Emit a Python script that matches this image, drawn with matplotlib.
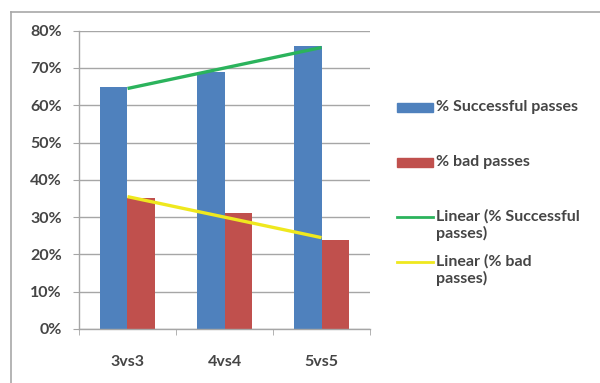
import numpy as np
import matplotlib.pyplot as plt
from matplotlib.patches import Rectangle
from matplotlib.lines import Line2D

# data
categories = ["3vs3", "4vs4", "5vs5"]
successful = [65, 69, 76]
bad = [35, 31, 24]
y_ticks = [0, 10, 20, 30, 40, 50, 60, 70, 80]
legend_labels = ["% Successful passes", "% bad passes",
                 "Linear (% Successful\npasses)", "Linear (% bad\npasses)"]

BLUE = "#4F81BD"
RED = "#C0504D"
GREEN = "#2BB35C"
YELLOW = "#EFE81E"
GRID = "#A6A6A6"
TEXT = "#454545"
FS = 11.5

plt.rcParams["font.family"] = ["Lato", "DejaVu Sans"]

W, H = 600, 383
fig = plt.figure(figsize=(W / 100, H / 100), dpi=100)
ax = fig.add_axes([79 / W, 54 / H, 291 / W, 298.3 / H])

x = np.arange(len(categories))
bw = 0.284
ax.bar(x - bw / 2, successful, width=bw, color=BLUE, zorder=2)
ax.bar(x + bw / 2, bad, width=bw, color=RED, zorder=2)

# excel style linear trendlines
for vals, col in [(successful, GREEN), (bad, YELLOW)]:
    k, b = np.polyfit(x, vals, 1)
    ax.plot(x, k * x + b, color=col, lw=2.4, zorder=3, solid_capstyle="butt")

ax.set_xlim(-0.5, len(categories) - 0.5)
ax.set_ylim(0, 80)
ax.set_yticks(y_ticks)
ax.set_yticklabels([f"{v}%" for v in y_ticks])
ax.set_xticks(x)
ax.set_xticklabels(categories)
ax.set_xticks(np.arange(len(categories) + 1) - 0.5, minor=True)

ax.yaxis.grid(True, color=GRID, lw=1)
ax.set_axisbelow(True)
for s in ["top", "right"]:
    ax.spines[s].set_visible(False)
for s in ["left", "bottom"]:
    ax.spines[s].set_color(GRID)
    ax.spines[s].set_linewidth(1)

ax.tick_params(axis="y", length=4.5, color=GRID, pad=8, labelsize=FS,
               labelcolor=TEXT)
ax.tick_params(axis="x", which="major", length=0, pad=19, labelsize=FS,
               labelcolor=TEXT)
ax.tick_params(axis="x", which="minor", length=4.5, color=GRID)
for lab in ax.get_xticklabels() + ax.get_yticklabels():
    lab.set_fontweight("bold")

# outer chart frame (only left and top edges fall inside the picture)
fig.add_artist(Line2D([11 / W, 11 / W], [0, 1 - 11.5 / H], color="#A8A8A8", lw=1.2))
fig.add_artist(Line2D([11 / W, 1], [1 - 11.5 / H, 1 - 11.5 / H], color="#A8A8A8", lw=1.2))

# legend drawn by hand to follow the excel spacing
def fy(py):
    return 1 - py / H

handle_x0, handle_x1, text_x = 397 / W, 433 / W, 436 / W
entries = [
    ("patch", BLUE, 107, 107),
    ("patch", RED, 162, 162),
    ("line", GREEN, 217, 225),
    ("line", YELLOW, 262, 270.5),
]
for (kind, col, hy, ty), label in zip(entries, legend_labels):
    if kind == "patch":
        fig.add_artist(Rectangle((handle_x0, fy(hy + 4.5)), handle_x1 - handle_x0,
                                 9 / H, color=col))
    else:
        fig.add_artist(Line2D([handle_x0, handle_x1], [fy(hy), fy(hy)], color=col, lw=2))
    fig.text(text_x, fy(ty), label, va="center", ha="left", fontsize=FS,
             color=TEXT, fontweight="bold", linespacing=1.2)

fig.savefig("out.png", dpi=100)
